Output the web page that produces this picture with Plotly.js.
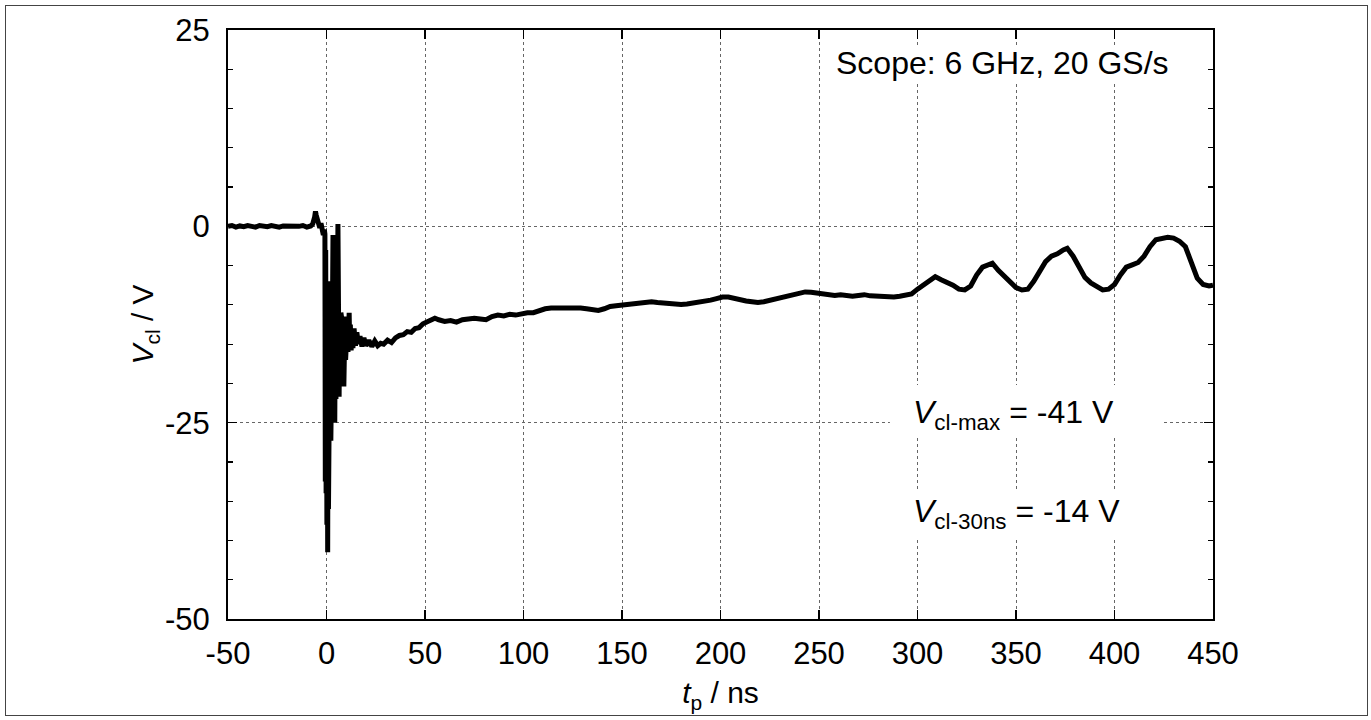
<!DOCTYPE html>
<html>
<head>
<meta charset="utf-8">
<script src="https://cdn.plot.ly/plotly-3.0.1.min.js"></script>
<style>
html,body{margin:0;padding:0;background:#fff;}
#wrap{position:relative;width:1371px;height:720px;}
#chart{width:1371px;height:720px;}
#frame{position:absolute;left:5px;top:5px;width:1361px;height:709px;border:1.6px solid #444;pointer-events:none;}
</style>
</head>
<body>
<div id="wrap"><div id="chart"></div><div id="frame"></div></div>
<script>
// time in ns
const tNs = [-50,-48,-46,-44,-42,-40,-38,-36,-34,-32,-30,-28,-26,-24,-22,-20,-18,-16,-14,-12,-10,-8,
 -7,-6,-5.6,-5.2,-4.6,-4,-3.4,-2.8,-2.2,-1.6,-1.1,-0.8,-0.6,-0.4,-0.2,0.0,0.2,0.4,0.6,0.8,1.0,1.3,1.6,1.9,2.2,2.5,2.8,3.1,3.3,3.6,3.9,4.2,4.5,4.8,5.1,5.4,5.8,6.1,6.4,6.7,7.0,7.3,7.6,7.9,8.2,8.5,8.8,9.1,9.4,9.7,10.0,10.3,10.6,10.9,11.2,11.5,11.8,12.1,12.5,12.9,13.4,14,14.7,15.4,16.2,17,18,19,20,21.5,23,24.5,26,27.5,29,31,33,35,37,39,41,43,45,47,49,51,53,55,57,
 60,63,66,69,72,75,78,81,84,87,90,93,96,99,102,105,108,111,114,117,120,123,126,129,132,135,138,141,144,147,150,153,156,159,162,165,168,171,174,177,180,183,186,189,192,195,198,201,204,207,210,213,216,219,222,225,228,231,234,237,240,243,246,249,252,255,258,261,264,267,270,273,276,279,282,285,288,291,294,297,
 300,303,306,309,312,315,318,321,324,327,330,333,336,338,341,344,347,350,353,356,359,362,365,368,371,374,376,379,382,385,388,391,394,397,400,403,406,409,412,415,418,421,424,427,430,433,436,439,442,445,448,450];
// clamp voltage in V
const vCl = [0.0,0.1,-0.1,0.05,-0.05,0.1,0,-0.1,0.1,0,-0.05,0.1,0,-0.1,0.05,0,0.1,-0.05,0,0.1,-0.1,0.05,
 0.3,1.2,1.9,1.4,1.0,0.3,-0.2,0.4,-0.6,-1.1,-0.4,-1.0,-32.5,-3,-34,-12,-38,-9,-41.5,-14,-36,-9,-31,-7,-27.3,-10,-24,-8,-1.1,-20,-9,-25,-10,-22,-6,-18,0.3,-10,-21.7,-12,-20,-11,-18,-12,-19,-13,-20.4,-12,-11.5,-17,-12.5,-16.5,-12,-16,-13,-11,-15.5,-12.5,-15.8,-13.2,-15.5,-13,-15.2,-13.5,-15,-14,-15.3,-14.2,-15.2,-14.5,-15.3,-14.6,-15.2,-14.9,-15.0,-14.5,-14.8,-14.2,-13.9,-13.8,-13.4,-13.5,-13.0,-12.9,-12.4,-12.2,-11.9,-11.7,-11.9,
 -12.1,-12.0,-12.2,-11.9,-11.8,-11.7,-11.8,-11.9,-11.5,-11.3,-11.4,-11.2,-11.3,-11.1,-11.0,-11.0,-10.7,-10.5,-10.4,-10.4,-10.3,-10.3,-10.3,-10.4,-10.5,-10.6,-10.7,-10.5,-10.2,-10.1,-10.0,-9.9,-9.8,-9.7,-9.6,-9.6,-9.7,-9.8,-9.9,-10.0,-9.95,-9.9,-9.8,-9.7,-9.6,-9.4,-9.2,-9.0,-9.0,-9.2,-9.4,-9.5,-9.6,-9.7,-9.6,-9.4,-9.2,-9.0,-8.8,-8.6,-8.4,-8.35,-8.4,-8.5,-8.6,-8.7,-8.8,-8.7,-8.8,-8.9,-8.8,-8.7,-8.85,-8.9,-9.0,-8.95,-9.0,-8.9,-8.8,-8.6,
 -8.0,-7.4,-6.8,-6.4,-6.8,-7.1,-7.5,-8.0,-8.1,-7.6,-6.2,-5.2,-4.8,-4.7,-5.6,-6.4,-7.2,-7.8,-8.1,-8.0,-7.0,-5.6,-4.5,-3.8,-3.5,-3.0,-2.8,-3.8,-5.2,-6.5,-7.2,-7.7,-8.1,-8.0,-7.4,-6.2,-5.2,-4.9,-4.6,-3.8,-2.6,-1.7,-1.6,-1.4,-1.5,-1.9,-2.6,-4.5,-6.6,-7.4,-7.6,-7.5];

const xTicks = [-50,0,50,100,150,200,250,300,350,400,450];
const yTicks = [-50,-25,0,25];
const scopeLabel = 'Scope: 6 GHz, 20 GS/s';
const maxLabel = '<i>V</i><sub>cl-max</sub> = -41 V';
const n30Label = '<i>V</i><sub>cl-30ns</sub> = -14 V';

const FONT = 'Liberation Sans, Arial, sans-serif';

const trace = {
  x: tNs, y: vCl, type: 'scatter', mode: 'lines',
  line: {color: '#000', width: 5},
  hoverinfo: 'skip'
};

const layout = {
  width: 1371, height: 720,
  margin: {l: 228, r: 158, t: 30, b: 101},
  paper_bgcolor: 'rgba(0,0,0,0)', plot_bgcolor: '#fff',
  showlegend: false,
  font: {family: FONT, size: 31, color: '#000'},
  xaxis: {
    range: [-50, 450], tickvals: xTicks, ticktext: xTicks.map(String),
    showline: true, linecolor: '#000', linewidth: 2, mirror: 'allticks',
    ticks: 'inside', ticklen: 9, tickwidth: 1.5, tickcolor: '#000',
    showgrid: true, gridcolor: '#666', griddash: 'dot', gridwidth: 1,
    zeroline: false, ticklabelstandoff: 6,
    tickfont: {size: 31},
    title: {text: '<i>t</i><sub>p</sub> / ns', font: {size: 30}, standoff: 12}
  },
  yaxis: {
    range: [-50, 25], tickvals: yTicks, ticktext: yTicks.map(String),
    showline: true, linecolor: '#000', linewidth: 2, mirror: 'allticks',
    ticks: 'inside', ticklen: 9, tickwidth: 1.5, tickcolor: '#000',
    minor: {dtick: 5, ticks: 'inside', ticklen: 5, tickwidth: 1.2, tickcolor: '#000', showgrid: false},
    showgrid: true, gridcolor: '#666', griddash: 'dot', gridwidth: 1,
    zeroline: false, ticklabelstandoff: 10,
    tickfont: {size: 31},
    title: {text: '<i>V</i><sub>cl</sub> / V', font: {size: 30}, standoff: 2}
  },
  shapes: [
    {type: 'rect', xref: 'x', yref: 'y', x0: 258, x1: 432, y0: 18.5, y1: 23, fillcolor: '#fff', line: {width: 0}, layer: 'above'},
    {type: 'rect', xref: 'x', yref: 'y', x0: 286, x1: 424.5, y0: -26.8, y1: -20.2, fillcolor: '#fff', line: {width: 0}, layer: 'above'},
    {type: 'rect', xref: 'x', yref: 'y', x0: 290, x1: 410, y0: -39.9, y1: -33.5, fillcolor: '#fff', line: {width: 0}, layer: 'above'}
  ],
  annotations: [
    {x: 257.5, y: 20.8, xref: 'x', yref: 'y', text: scopeLabel, showarrow: false, xanchor: 'left', yanchor: 'middle', font: {size: 32}},
    {x: 296.5, y: -24.0, xref: 'x', yref: 'y', text: maxLabel, showarrow: false, xanchor: 'left', yanchor: 'middle', font: {size: 32}},
    {x: 296.5, y: -36.6, xref: 'x', yref: 'y', text: n30Label, showarrow: false, xanchor: 'left', yanchor: 'middle', font: {size: 32}}
  ]
};

Plotly.newPlot('chart', [trace], layout, {staticPlot: true, displayModeBar: false});
</script>
</body>
</html>
